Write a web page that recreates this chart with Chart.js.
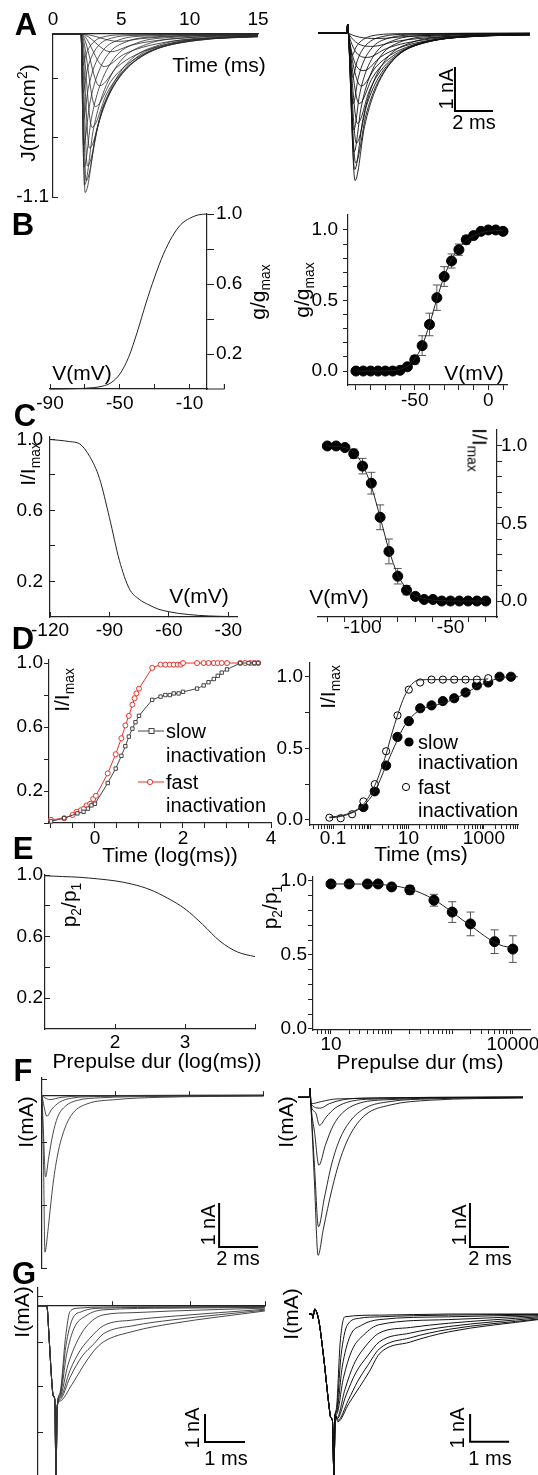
<!DOCTYPE html>
<html>
<head>
<meta charset="utf-8">
<title>Na+ current: model vs. recordings</title>
<script src="https://cdn.jsdelivr.net/npm/chart.js@4.4.1/dist/chart.umd.min.js"></script>
<style>
  html, body { margin: 0; padding: 0; background: #fff; }
  #fig { position: relative; width: 538px; height: 1475px; overflow: hidden;
         font-family: 'Liberation Sans', Arial, Helvetica, sans-serif; color: #000; }
  #fig canvas { position: absolute; }
  .txt { position: absolute; white-space: nowrap; line-height: 1; font-size: 21px;
         transform: translate(-50%, -50%); }
  .up { transform: translate(-50%, -50%) rotate(-90deg); }
  .down { transform: translate(-50%, -50%) rotate(90deg); }
  .letter { font-weight: bold; font-size: 31px; }
  .leg { font-size: 20px; transform: translate(0, -50%); }
  .sb { font-size: 20px; }
  sub, sup { font-size: 0.66em; line-height: 0; }
  svg.sw { position: absolute; overflow: visible; }
</style>
</head>
<body>
<div id="fig">
  <!-- panel letters -->
  <div class="txt letter" style="left:26px;top:24px">A</div>
  <div class="txt letter" style="left:23px;top:224px">B</div>
  <div class="txt letter" style="left:25px;top:415px">C</div>
  <div class="txt letter" style="left:23px;top:638px">D</div>
  <div class="txt letter" style="left:23px;top:848px">E</div>
  <div class="txt letter" style="left:23px;top:1070px">F</div>
  <div class="txt letter" style="left:24px;top:1273px">G</div>

  <!-- A -->
  <div class="txt" style="left:219px;top:64px">Time (ms)</div>
  <div class="txt up" style="left:27px;top:113px">J(mA/cm<sup>2</sup>)</div>
  <div class="txt up sb" style="left:446px;top:89px">1 nA</div>
  <div class="txt sb" style="left:474px;top:122px">2 ms</div>

  <!-- B -->
  <div class="txt up" style="left:257px;top:292px">g/g<sub>max</sub></div>
  <div class="txt" style="left:82px;top:372px">V(mV)</div>
  <div class="txt up" style="left:301px;top:290px">g/g<sub>max</sub></div>
  <div class="txt" style="left:474px;top:372px">V(mV)</div>

  <!-- C -->
  <div class="txt up" style="left:27px;top:464px">I/I<sub>max</sub></div>
  <div class="txt" style="left:199px;top:595px">V(mV)</div>
  <div class="txt down" style="left:480px;top:450px">I/I<sub>max</sub></div>
  <div class="txt" style="left:339px;top:596px">V(mV)</div>

  <!-- D -->
  <div class="txt up" style="left:61px;top:690px">I/I<sub>max</sub></div>
  <div class="txt" style="left:170px;top:854px">Time (log(ms))</div>
  <svg class="sw" style="left:137px;top:725px" width="28" height="12">
    <line x1="1" y1="6" x2="27" y2="6" stroke="#444" stroke-width="1"/>
    <rect x="12" y="3.5" width="5" height="5" fill="#fff" stroke="#444" stroke-width="1"/>
  </svg>
  <div class="txt leg" style="left:166px;top:731px">slow</div>
  <div class="txt leg" style="left:166px;top:755px">inactivation</div>
  <svg class="sw" style="left:137px;top:776px" width="28" height="12">
    <line x1="1" y1="6" x2="27" y2="6" stroke="#e8322c" stroke-width="1"/>
    <circle cx="13" cy="6" r="2.6" fill="#fff" stroke="#e8322c" stroke-width="1"/>
  </svg>
  <div class="txt leg" style="left:166px;top:782px">fast</div>
  <div class="txt leg" style="left:166px;top:805px">inactivation</div>

  <div class="txt up" style="left:327px;top:687px">I/I<sub>max</sub></div>
  <div class="txt" style="left:421px;top:853px">Time (ms)</div>
  <svg class="sw" style="left:403px;top:736px" width="12" height="12">
    <circle cx="6" cy="6" r="4.6" fill="#000"/>
  </svg>
  <div class="txt leg" style="left:418px;top:742px">slow</div>
  <div class="txt leg" style="left:418px;top:762px">inactivation</div>
  <svg class="sw" style="left:400px;top:781px" width="12" height="12">
    <circle cx="6" cy="6" r="3.6" fill="#fff" stroke="#000" stroke-width="1"/>
  </svg>
  <div class="txt leg" style="left:418px;top:787px">fast</div>
  <div class="txt leg" style="left:418px;top:810px">inactivation</div>

  <!-- E -->
  <div class="txt up" style="left:68px;top:905px">p<sub>2</sub>/p<sub>1</sub></div>
  <div class="txt" style="left:157px;top:1060px">Prepulse dur (log(ms))</div>
  <div class="txt up" style="left:269px;top:907px">p<sub>2</sub>/p<sub>1</sub></div>
  <div class="txt" style="left:420px;top:1061px">Prepulse dur (ms)</div>

  <!-- F -->
  <div class="txt up" style="left:25px;top:1122px">I(mA)</div>
  <div class="txt up sb" style="left:208px;top:1225px">1 nA</div>
  <div class="txt sb" style="left:238px;top:1258px">2 ms</div>
  <div class="txt up" style="left:285px;top:1122px">I(mA)</div>
  <div class="txt up sb" style="left:459px;top:1225px">1 nA</div>
  <div class="txt sb" style="left:490px;top:1258px">2 ms</div>

  <!-- G -->
  <div class="txt up" style="left:21px;top:1312px">I(mA)</div>
  <div class="txt up sb" style="left:192px;top:1428px">1 nA</div>
  <div class="txt sb" style="left:226px;top:1458px">1 ms</div>
  <div class="txt up" style="left:290px;top:1314px">I(mA)</div>
  <div class="txt up sb" style="left:457px;top:1428px">1 nA</div>
  <div class="txt sb" style="left:490px;top:1458px">1 ms</div>
</div>

<script>
// ===================== data =====================

// A (left): simulated current density traces, [time ms, J mA/cm2]
const jOnset = [[0, 0], [2.05, 0]];
const jTraces = [
  [[4.8,-0.05],[6.4,-0.032],[8.0,-0.02],[11.2,-0.009],[15,-0.004]],
  [[4.2,-0.12],[5.7,-0.076],[7.2,-0.049],[10.2,-0.022],[15,-0.008]],
  [[3.75,-0.22],[5.15,-0.139],[6.55,-0.09],[9.35,-0.04],[13.55,-0.015],[15,-0.012]],
  [[3.4,-0.35],[4.7,-0.222],[6.0,-0.143],[8.6,-0.064],[12.5,-0.024],[15,-0.015]],
  [[3.1,-0.49],[4.3,-0.311],[5.5,-0.2],[7.9,-0.09],[11.5,-0.034],[15,-0.017]],
  [[2.85,-0.63],[3.95,-0.399],[5.05,-0.258],[7.25,-0.115],[10.55,-0.043],[15,-0.018]],
  [[2.67,-0.77],[3.67,-0.488],[4.67,-0.315],[6.67,-0.141],[9.67,-0.053],[15,-0.017]],
  [[2.52,-0.89],[3.45,-0.564],[4.37,-0.364],[6.22,-0.163],[8.99,-0.061],[13.62,-0.021],[15,-0.018]],
  [[2.42,-0.99],[3.27,-0.628],[4.12,-0.405],[5.82,-0.181],[8.37,-0.068],[12.62,-0.024],[15,-0.016]],
  [[2.35,-1.07],[3.13,-0.678],[3.9,-0.438],[5.45,-0.196],[7.78,-0.074],[11.65,-0.026],[15,-0.012]],
  [[2.3,-1.02],[2.95,-0.647],[3.6,-0.417],[4.9,-0.187],[6.85,-0.07],[10.1,-0.024],[15,-0.009]],
  [[2.26,-0.9],[2.81,-0.571],[3.36,-0.368],[4.46,-0.165],[6.11,-0.062],[8.86,-0.022],[15,-0.006]],
  [[2.23,-0.75],[2.68,-0.476],[3.13,-0.307],[4.03,-0.137],[5.38,-0.052],[7.63,-0.018],[15,-0.003]],
  [[2.2,-0.58],[2.58,-0.368],[2.95,-0.237],[3.7,-0.106],[4.83,-0.04],[6.7,-0.014],[15,-0.002]],
  [[2.18,-0.4],[2.48,-0.254],[2.78,-0.164],[3.38,-0.073],[4.28,-0.028],[5.78,-0.01],[15,0]],
  [[2.16,-0.22],[2.41,-0.139],[2.66,-0.09],[3.16,-0.04],[3.91,-0.015],[5.16,-0.005],[15,0]]
];
const jTickLabels = [0, 5, 10, 15];

// A (right): recorded current traces, [time ms, I nA]
const iOnset = [[0, 0], [1.52, 0], [1.56, 0.2], [1.6, 0]];
const iTraces = [
  [[3.2,-0.12],[4.6,-0.076],[6.0,-0.049],[8.8,-0.022],[11.16,-0.013]],
  [[2.85,-0.3],[4.05,-0.19],[5.25,-0.123],[7.65,-0.055],[11.16,-0.021]],
  [[2.6,-0.55],[3.6,-0.349],[4.6,-0.225],[6.6,-0.101],[9.6,-0.038],[11.16,-0.025]],
  [[2.42,-0.85],[3.3,-0.539],[4.17,-0.348],[5.92,-0.156],[8.55,-0.059],[11.16,-0.029]],
  [[2.28,-1.2],[3.06,-0.761],[3.83,-0.491],[5.38,-0.22],[7.71,-0.083],[11.16,-0.032]],
  [[2.17,-1.6],[2.86,-1.014],[3.55,-0.654],[4.93,-0.293],[7.0,-0.11],[10.45,-0.038],[11.16,-0.034]],
  [[2.08,-2.05],[2.71,-1.3],[3.33,-0.838],[4.58,-0.375],[6.46,-0.141],[9.58,-0.049],[11.16,-0.04]],
  [[2.02,-2.5],[2.6,-1.585],[3.17,-1.023],[4.32,-0.458],[6.05,-0.173],[8.92,-0.06],[11.16,-0.042]],
  [[1.98,-2.95],[2.52,-1.87],[3.05,-1.207],[4.12,-0.54],[5.73,-0.204],[8.4,-0.071],[11.16,-0.04]],
  [[1.95,-3.35],[2.45,-2.124],[2.95,-1.37],[3.95,-0.613],[5.45,-0.231],[7.95,-0.08],[11.16,-0.036]],
  [[1.93,-3.1],[2.36,-1.965],[2.78,-1.268],[3.63,-0.567],[4.91,-0.214],[7.03,-0.074],[11.16,-0.022]],
  [[1.9,-2.7],[2.26,-1.712],[2.62,-1.104],[3.34,-0.494],[4.42,-0.186],[6.22,-0.065],[11.16,-0.012]],
  [[1.88,-2.2],[2.19,-1.395],[2.5,-0.9],[3.12,-0.403],[4.05,-0.152],[5.6,-0.053],[11.16,-0.006]],
  [[1.85,-1.6],[2.12,-1.014],[2.39,-0.654],[2.93,-0.293],[3.74,-0.11],[5.09,-0.038],[11.16,-0.003]],
  [[1.82,-1.0],[2.06,-0.634],[2.29,-0.409],[2.76,-0.183],[3.47,-0.069],[4.64,-0.024],[11.16,0]],
  [[1.8,-0.5],[2.0,-0.317],[2.2,-0.205],[2.6,-0.092],[3.2,-0.035],[4.2,-0.012],[11.16,0]]
];

// B: activation (g/gmax vs V)
const actModelV = [-90,-85,-80,-75,-70,-65,-60,-55,-50,-45,-40,-35,-30,-25,-20,-15,-10,-5,0];
const actModelG = [0,0,0.001,0.002,0.004,0.008,0.016,0.036,0.085,0.18,0.325,0.49,0.64,0.77,0.87,0.94,0.975,0.995,1.0];
const actV    = [-90,-85,-80,-75,-70,-65,-60,-55,-50,-45,-40,-35,-30,-25,-20,-15,-10,-5,0,5,10];
const actG    = [0,0,0,0,0,0,0.005,0.03,0.08,0.18,0.33,0.52,0.67,0.78,0.86,0.93,0.96,0.99,1.0,1.0,0.99];
const actGErr = [0,0,0,0,0,0,0,0.01,0.03,0.07,0.08,0.09,0.07,0.05,0.04,0.03,0.02,0.01,0.01,0.01,0.02];
const actFit  = [0,0,0,0,0.001,0.004,0.012,0.035,0.085,0.18,0.33,0.51,0.67,0.79,0.87,0.925,0.958,0.978,0.99,0.995,0.997];

// C: steady-state inactivation (I/Imax vs V)
const inaV = [-120,-115,-110,-105,-100,-95,-90,-85,-80,-75,-70,-65,-60,-55,-50,-45,-40,-35,-30];
const inaModel = [1.0,0.995,0.988,0.975,0.905,0.78,0.56,0.32,0.16,0.1,0.068,0.043,0.03,0.02,0.014,0.009,0.006,0.004,0.003];
const inaI    = [1.0,1.0,0.99,0.95,0.87,0.76,0.54,0.32,0.16,0.07,0.03,0.01,0.01,0,0,0,0,0,0];
const inaIErr = [0,0,0,0.03,0.05,0.07,0.08,0.08,0.05,0.03,0.01,0,0,0,0,0,0,0,0];
const inaFit  = [1.0,0.998,0.99,0.96,0.88,0.74,0.54,0.33,0.17,0.08,0.035,0.015,0.006,0.002,0,0,0,0,0];

// D (left): recovery from inactivation, model (log10 ms)
const fastLogT = [-1.0,-0.7,-0.51,-0.42,-0.32,-0.25,-0.19,-0.11,-0.04,0.02,0.29,0.47,0.6,0.69,0.77,0.85,0.9,0.94,1.0,1.3,1.49,1.6,1.7,1.79,1.88,1.95,2.0,2.32,2.47,2.58,2.7,2.79,2.88,3.0,3.3,3.41,3.53,3.62,3.71];
const fastFrac = [0.02,0.03,0.05,0.07,0.08,0.09,0.11,0.12,0.15,0.17,0.31,0.43,0.53,0.61,0.67,0.74,0.78,0.81,0.84,0.97,0.99,0.99,0.99,0.99,0.99,0.99,1.0,1.0,1.0,1.0,1.0,1.0,1.0,1.0,1.0,1.0,1.0,1.0,1.0];
const slowLogT = [-1.0,-0.7,-0.4,-0.26,-0.16,-0.08,0,0.29,0.47,0.6,0.69,0.77,0.85,0.92,1.0,1.3,1.49,1.6,1.7,1.79,1.9,2.0,2.32,2.47,2.58,2.7,2.79,2.88,3.0,3.3,3.49,3.62,3.71];
const slowFrac = [0.01,0.03,0.06,0.07,0.09,0.11,0.12,0.25,0.34,0.42,0.48,0.54,0.59,0.63,0.67,0.77,0.79,0.8,0.8,0.81,0.81,0.82,0.84,0.86,0.88,0.9,0.92,0.94,0.96,1.0,1.0,1.0,1.0];

// D (right): recovery from inactivation, recordings (ms)
const recT = [0.08,0.16,0.32,0.64,1.28,2.56,5.12,10.24,20.5,41,82,164,328,655,1310,2620,5240];
const recFast = [0.016,0.012,0.04,0.13,0.25,0.48,0.73,0.91,0.96,0.98,0.98,0.98,0.98,0.98,0.99];
const recSlow = [null,null,null,0.09,0.2,0.38,0.58,0.69,0.78,0.8,0.83,0.85,0.89,0.94,0.96,1.0,1.0];
const recFastFitT = [0.08,0.16,0.32,0.64,1.28,2.56,3.6,5.12,7.2,10.24,14.5,20.5,41,82,164,328,655,1310];
const recFastFit  = [0.02,0.03,0.055,0.11,0.24,0.46,0.6,0.73,0.84,0.92,0.965,0.978,0.98,0.98,0.98,0.98,0.98,0.985];
const recSlowFitT = [0.08,0.16,0.32,0.64,1.28,2.56,3.6,5.12,7.2,10.24,14.5,20.5,41,82,164,328,655,1310,2620,5240,8000];
const recSlowFit  = [0.015,0.025,0.05,0.1,0.2,0.38,0.47,0.56,0.64,0.7,0.74,0.77,0.795,0.815,0.845,0.885,0.93,0.965,0.99,1.0,1.0];

// E: slow inactivation onset (p2/p1 vs prepulse duration)
const preLogDur = [1.0,1.25,1.5,1.75,2.0,2.25,2.5,2.75,3.0,3.25,3.5,3.75,4.0];
const preModel  = [0.995,0.99,0.985,0.975,0.962,0.94,0.905,0.85,0.78,0.68,0.57,0.5,0.47];
const preDur    = [10,20,40,60,100,200,500,1000,2000,5000,10000];
const preRatio  = [0.98,0.98,0.98,0.98,0.96,0.94,0.87,0.79,0.71,0.59,0.54];
const preErr    = [0.01,0.01,0.01,0.01,0.01,0.03,0.04,0.07,0.08,0.08,0.09];
const preFitT   = [10,20,50,100,200,300,500,700,1000,1500,2000,3000,5000,7000,10000];
const preFit    = [0.98,0.98,0.977,0.97,0.945,0.92,0.875,0.835,0.79,0.735,0.7,0.645,0.585,0.56,0.55];

// F: currents at selected test pulses, [ms, nA]
const fModel = [
  [[0,0],[0.08,-1.6],[0.15,-3.57],[0.3,-3.1],[0.42,-2.6],[0.6,-1.9],[0.85,-1.25],[1.2,-0.72],[1.6,-0.4],[2.3,-0.2],[3.8,-0.1],[6,-0.05],[11.33,-0.02]],
  [[0,0],[0.08,-0.9],[0.18,-1.86],[0.35,-1.4],[0.55,-0.9],[0.8,-0.5],[1.2,-0.25],[1.8,-0.12],[3,-0.06],[6,-0.03],[11.33,-0.01]],
  [[0,0],[0.1,-0.25],[0.25,-0.48],[0.5,-0.32],[0.9,-0.16],[1.5,-0.07],[3,-0.03],[11.33,0]],
  [[0,0],[0.15,-0.06],[0.4,-0.1],[1.0,-0.05],[3,-0.01],[11.33,0]]
];
const fRecOnset = [[0,0],[0.58,0],[0.62,0.2],[0.66,-0.15]];
const fRec = [
  [[0.85,-2.0],[1.03,-3.6],[1.3,-3.0],[1.74,-2.1],[2.15,-1.43],[2.67,-0.86],[3.44,-0.41],[4.72,-0.18],[6.8,-0.07],[11.54,-0.02]],
  [[0.85,-1.6],[1.05,-2.95],[1.35,-2.3],[1.74,-1.5],[2.15,-0.95],[2.67,-0.55],[3.44,-0.25],[4.72,-0.1],[6.8,-0.04],[11.54,-0.01]],
  [[0.85,-0.8],[1.07,-1.55],[1.4,-1.1],[1.8,-0.65],[2.3,-0.35],[3.0,-0.16],[4.5,-0.06],[11.54,0]],
  [[0.9,-0.35],[1.1,-0.64],[1.45,-0.45],[1.9,-0.25],[2.5,-0.12],[3.5,-0.05],[11.54,0]],
  [[1.15,-0.25],[1.6,-0.15],[2.3,-0.06],[3.5,-0.02],[11.54,0]],
  [[1.2,-0.1],[2.0,-0.04],[11.54,0]]
];

// G: currents with an action-potential-like spike, [ms, nA]
const gModelOnset = [[0,0],[0.22,0],[0.28,-1.2],[0.34,-2.6],[0.38,-3.2],[0.42,-3.35],[0.45,-6.07],[0.48,-3.6]];
const gModel = [
  [[0.55,-3.1],[0.69,-1.1],[0.8,-0.2],[1.0,-0.08],[1.63,-0.04],[3.35,-0.03],[5.67,-0.02]],
  [[0.55,-3.15],[0.7,-1.4],[0.85,-0.5],[1.1,-0.2],[1.63,-0.08],[3.35,-0.05],[5.67,-0.03]],
  [[0.55,-3.2],[0.72,-1.7],[0.9,-0.8],[1.2,-0.35],[1.63,-0.14],[3.35,-0.08],[5.67,-0.05]],
  [[0.55,-3.25],[0.75,-2.1],[0.95,-1.35],[1.2,-0.75],[1.63,-0.32],[2.4,-0.24],[3.35,-0.18],[5.67,-0.08]],
  [[0.55,-3.3],[0.8,-2.3],[1.05,-1.6],[1.3,-1.15],[1.63,-0.71],[2.4,-0.5],[3.35,-0.37],[5.67,-0.12]],
  [[0.55,-3.35],[0.8,-2.55],[1.1,-1.8],[1.4,-1.35],[1.63,-1.0],[2.4,-0.7],[3.35,-0.5],[5.67,-0.15]],
  [[0.55,-3.4],[0.85,-2.8],[1.15,-2.1],[1.4,-1.6],[1.63,-1.29],[2.4,-0.9],[3.35,-0.63],[5.67,-0.18]]
];
const gRecOnset = [[0,0],[0.08,0],[0.1,-0.15],[0.12,0],[0.15,0.18],[0.2,0.05],[0.26,-0.3],[0.38,-1.6],[0.51,-3.25],[0.56,-3.71],[0.6,-3.8],[0.64,-5.79],[0.67,-3.6]];
const gRec = [
  [[0.7,-3.4],[0.8,-1.0],[0.92,-0.1],[1.8,-0.04],[3.57,0],[5.87,0]],
  [[0.7,-3.5],[0.82,-1.5],[0.98,-0.4],[1.3,-0.15],[1.8,-0.1],[3.57,-0.04],[5.87,-0.01]],
  [[0.7,-3.55],[0.85,-1.9],[1.05,-0.8],[1.35,-0.4],[1.8,-0.2],[3.57,-0.1],[5.87,-0.03]],
  [[0.7,-3.6],[0.88,-2.3],[1.1,-1.3],[1.4,-0.75],[1.8,-0.38],[3.57,-0.2],[5.87,-0.06]],
  [[0.72,-3.7],[0.92,-2.7],[1.15,-1.8],[1.45,-1.15],[1.8,-0.68],[2.6,-0.48],[3.57,-0.33],[5.87,-0.1]],
  [[0.72,-3.75],[0.95,-2.9],[1.2,-2.1],[1.5,-1.5],[1.8,-1.0],[2.6,-0.68],[3.57,-0.45],[5.87,-0.14]],
  [[0.74,-3.8],[1.0,-3.1],[1.25,-2.4],[1.5,-1.85],[1.8,-1.25],[2.6,-0.85],[3.57,-0.55],[5.87,-0.18]],
  [[0.74,-3.85],[1.02,-3.2],[1.3,-2.6],[1.55,-2.05],[1.8,-1.43],[2.6,-1.0],[3.57,-0.64],[5.87,-0.2]]
];

// ===================== plugins =====================

// vertical error bars with caps, read from dataset.errorBars
Chart.register({
  id: 'errorBars',
  beforeDatasetsDraw(chart) {
    const ctx = chart.ctx;
    chart.data.datasets.forEach((ds, i) => {
      if (!ds.errorBars) return;
      const meta = chart.getDatasetMeta(i);
      const ys = chart.scales[meta.yAxisID];
      ctx.save();
      ctx.strokeStyle = '#555';
      ctx.lineWidth = 1;
      meta.data.forEach((pt, j) => {
        const e = ds.errorBars[j];
        if (!e || ds.data[j] == null) return;
        const v = ds.data[j][1];
        const ya = ys.getPixelForValue(v + e), yb = ys.getPixelForValue(v - e);
        const x = pt.x, w = 4;
        ctx.beginPath();
        ctx.moveTo(x, ya); ctx.lineTo(x, yb);
        ctx.moveTo(x - w, ya); ctx.lineTo(x + w, ya);
        ctx.moveTo(x - w, yb); ctx.lineTo(x + w, yb);
        ctx.stroke();
      });
      ctx.restore();
    });
  }
});

// L-shaped calibration bar in data units
Chart.register({
  id: 'scaleBar',
  afterDatasetsDraw(chart, args, o) {
    if (!o || o.x === undefined) return;
    const xs = chart.scales.x, ys = chart.scales.y, ctx = chart.ctx;
    const x0 = xs.getPixelForValue(o.x), y0 = ys.getPixelForValue(o.y);
    const x1 = xs.getPixelForValue(o.x + o.dx), y1 = ys.getPixelForValue(o.y + o.dy);
    ctx.save();
    ctx.strokeStyle = '#000';
    ctx.lineWidth = 2;
    ctx.beginPath();
    ctx.moveTo(x0, y1); ctx.lineTo(x0, y0); ctx.lineTo(x1, y0);
    ctx.stroke();
    ctx.restore();
  }
});

// continuation of the x axis past the y axis (B, model), with its end tick
Chart.register({
  id: 'axisStub',
  afterDraw(chart, args, o) {
    if (!o || o.to === undefined) return;
    const xs = chart.scales.x, ctx = chart.ctx, y = chart.chartArea.bottom;
    const xa = chart.chartArea.right, xb = xs.getPixelForValue(o.to);
    ctx.save();
    ctx.strokeStyle = '#222';
    ctx.lineWidth = 1.2;
    ctx.beginPath();
    ctx.moveTo(xa, y); ctx.lineTo(xb, y);
    ctx.moveTo(xb, y); ctx.lineTo(xb, y - 5);
    ctx.stroke();
    ctx.restore();
  }
});

Chart.defaults.font.family = "'Liberation Sans', Arial, Helvetica, sans-serif";
Chart.defaults.font.size = 19;
Chart.defaults.color = '#000';

// ===================== helpers =====================
const M = 64;
const fig = document.getElementById('fig');

function makePanel(area, datasets, scales, plugins) {
  const [x1, y1, x2, y2] = area;
  // every axis box is M wide, so the side that holds an axis needs no extra padding
  const pad = { left: M, right: M, top: M, bottom: M };
  Object.values(scales).forEach(s => {
    if (s.display !== false && typeof s.position === 'string') pad[s.position] = 0;
  });
  const cv = document.createElement('canvas');
  cv.width = x2 - x1 + 2 * M;
  cv.height = y2 - y1 + 2 * M;
  cv.style.left = (x1 - M) + 'px';
  cv.style.top = (y1 - M) + 'px';
  fig.insertBefore(cv, fig.firstChild);
  return new Chart(cv.getContext('2d'), {
    type: 'line',
    data: { datasets },
    options: {
      responsive: false, animation: false, events: [],
      layout: { padding: pad },
      scales,
      plugins: Object.assign({ legend: { display: false }, tooltip: { enabled: false } }, plugins || {})
    }
  });
}

function ax(o) {
  const lab = o.labels || [];
  return {
    type: o.type || 'linear',
    position: o.pos,
    min: o.min, max: o.max,
    afterFit: s => {
      if (typeof o.pos !== 'string') return;
      if (s.isHorizontal()) s.height = M; else s.width = M;
    },
    afterBuildTicks: s => { s.ticks = (o.ticks || []).map(v => ({ value: v })); },
    ticks: {
      autoSkip: false, maxRotation: 0, minRotation: 0,
      padding: o.pad || 0, color: '#000', font: { size: o.fs || 19 },
      callback: v => lab.some(l => Math.abs(l - v) < 1e-9 * Math.max(1, Math.abs(l)))
        ? (o.fmt ? o.fmt(v) : String(v)) : ''
    },
    grid: { display: true, drawOnChartArea: false, drawTicks: true,
            tickLength: o.tl === undefined ? 5 : o.tl, color: '#222', lineWidth: 1 },
    border: { display: true, color: '#222', width: 1.2 }
  };
}
const hidden = (min, max) => ({ type: 'linear', display: false, min, max });
const f1 = v => v.toFixed(1);
const range = (a, b, s) => { const r = []; for (let v = a; v <= b + 1e-9; v += s) r.push(+v.toFixed(6)); return r; };
function logTicks(lo, hi) {
  const r = [];
  for (let e = -3; e <= 5; e++) for (let m = 1; m <= 9; m++) {
    const v = +(m * Math.pow(10, e)).toPrecision(6);
    if (v >= lo && v <= hi) r.push(v);
  }
  return r;
}
const pair = (xs, ys) => xs.map((x, i) => [x, ys[i]]);
const line = (pts, color, w) => ({ data: pts, borderColor: color || '#222', borderWidth: w || 0.8,
  pointRadius: 0, cubicInterpolationMode: 'monotone', fill: false, clip: false });
const dots = (pts, r, fillCol, extra) => Object.assign({ data: pts, showLine: false, pointRadius: r,
  pointBackgroundColor: fillCol, pointBorderColor: '#000', pointBorderWidth: 1, clip: false }, extra || {});

// ===================== A =====================
makePanel([53, 34, 258, 197],
  jTraces.map(t => line(jOnset.concat(t), '#2a2a2a', 0.8)),
  {
    x: ax({ pos: 'top', min: 0, max: 15, ticks: jTickLabels, labels: jTickLabels, tl: 0, pad: 3 }),
    y: ax({ pos: 'left', min: -1.1, max: 0, ticks: [-1.1, -0.7, -0.3], labels: [-1.1], tl: -5, pad: 9, fmt: f1 })
  });

makePanel([318, 20, 530, 185],
  iTraces.map(t => line(iOnset.concat(t), '#111', 0.9)),
  { x: hidden(0, 11.16), y: hidden(-3.45, 0.3) },
  { scaleBar: { x: 7.21, y: -1.77, dx: 2, dy: 1 } });

// ===================== B =====================
makePanel([50, 214, 207, 389],
  [line(pair(actModelV, actModelG), '#222', 1)],
  {
    x: ax({ pos: 'bottom', min: -90, max: 0, ticks: [-90, -70, -50, -30, -10], labels: [-90, -50, -10], tl: -5, pad: 8 }),
    y: ax({ pos: 'right', min: 0, max: 1, ticks: [0.2, 0.4, 0.6, 0.8, 1.0], labels: [0.2, 0.6, 1.0], tl: 7, pad: 2, fmt: f1 })
  },
  { axisStub: { to: 10 } });

makePanel([348, 215, 507, 385],
  [line(pair(actV, actFit), '#222', 1),
   dots(pair(actV, actG), 5, '#000', { errorBars: actGErr })],
  {
    x: ax({ pos: 'bottom', min: -95.4, max: 12.7, ticks: range(-90, 10, 10), labels: [-50, 0], tl: 5, pad: -1 }),
    y: ax({ pos: 'left', min: -0.099, max: 1.106, ticks: range(0, 1, 0.1), labels: [0, 0.5, 1], tl: 5, pad: 5, fmt: f1 })
  });

// ===================== C =====================
makePanel([50, 437, 237, 617],
  [line(pair(inaV, inaModel), '#222', 1)],
  {
    x: ax({ pos: 'bottom', min: -120, max: -25.6, ticks: [-120, -90, -60, -30], labels: [-120, -90, -60, -30], tl: -5, pad: 7 }),
    y: ax({ pos: 'left', min: 0, max: 1.014, ticks: [0.2, 0.4, 0.6, 0.8, 1.0], labels: [0.2, 0.6, 1.0], tl: -5, pad: 12, fmt: f1 })
  });

makePanel([318, 430, 497, 617],
  [line(pair(inaV, inaFit), '#222', 1),
   dots(pair(inaV, inaI), 5, '#000', { errorBars: inaIErr })],
  {
    x: ax({ pos: 'bottom', min: -125.3, max: -23.6, ticks: range(-120, -30, 10), labels: [-100, -50], tl: 5, pad: -6 }),
    y: ax({ pos: 'right', min: -0.103, max: 1.103, ticks: range(0, 1, 0.1), labels: [0, 0.5, 1], tl: 5, pad: -1, fmt: f1 })
  });

// ===================== D =====================
makePanel([49, 660, 271, 823],
  [
    { data: pair(slowLogT, slowFrac), borderColor: '#444', borderWidth: 1, pointStyle: 'rect', pointRadius: 2.4,
      pointBackgroundColor: '#fff', pointBorderColor: '#444', pointBorderWidth: 1, tension: 0, clip: false },
    { data: pair(fastLogT, fastFrac), borderColor: '#e8322c', borderWidth: 1, pointStyle: 'circle', pointRadius: 2.5,
      pointBackgroundColor: '#fff', pointBorderColor: '#e8322c', pointBorderWidth: 1, tension: 0, clip: false }
  ],
  {
    x: ax({ pos: 'bottom', min: -1.045, max: 4.0, ticks: range(-1, 4, 0.5), labels: [0, 2, 4], tl: 5, pad: -1 }),
    y: ax({ pos: 'left', min: 0, max: 1.019, ticks: range(0, 1, 0.2), labels: [0.2, 0.6, 1.0], tl: 5, pad: 1, fmt: f1 })
  });

makePanel([310, 663, 518, 825],
  [
    line(pair(recFastFitT, recFastFit), '#222', 1),
    line(pair(recSlowFitT, recSlowFit), '#222', 1),
    dots(pair(recT.slice(0, recFast.length), recFast), 3.6, '#fff'),
    dots(pair(recT, recSlow).filter(p => p[1] !== null), 4.6, '#000')
  ],
  {
    x: ax({ type: 'logarithmic', pos: 'bottom', min: 0.0245, max: 8070, ticks: logTicks(0.0245, 8070), labels: [0.1, 10, 1000], tl: 4, pad: -2 }),
    y: ax({ pos: 'left', min: -0.035, max: 1.096, ticks: [0, 0.25, 0.5, 0.75, 1.0], labels: [0, 0.5, 1.0], tl: 5, pad: 2, fmt: f1 })
  });

// ===================== E =====================
makePanel([45, 875, 255, 1029],
  [line(pair(preLogDur, preModel), '#222', 1)],
  {
    x: ax({ pos: 'bottom', min: 1, max: 4, ticks: [2, 3, 4], labels: [2, 3], tl: -5, pad: 7 }),
    y: ax({ pos: 'left', min: 0, max: 1, ticks: [0.2, 0.4, 0.6, 0.8, 1.0], labels: [0.2, 0.6, 1.0], tl: -5, pad: 7, fmt: f1 })
  });

makePanel([313, 877, 530, 1030],
  [line(pair(preFitT, preFit), '#222', 1),
   dots(pair(preDur, preRatio), 5, '#000', { errorBars: preErr })],
  {
    x: ax({ type: 'logarithmic', pos: 'bottom', min: 5.05, max: 19200, ticks: logTicks(5.05, 19200), labels: [10, 10000], tl: 4, pad: -1 }),
    y: ax({ pos: 'left', min: -0.0068, max: 1.027, ticks: range(0, 1, 0.1), labels: [0, 0.5, 1.0], tl: 5, pad: 1, fmt: f1 })
  });

// ===================== F =====================
makePanel([42, 1078, 263, 1268],
  fModel.map(t => line(t, '#333', 0.9)),
  {
    x: ax({ pos: { y: 0 }, min: 0, max: 11.33, ticks: [3.78, 7.56, 11.33], labels: [], tl: -5 }),
    y: ax({ pos: 'left', min: -3.93, max: 0.39, ticks: [-3.93, -2.5, -1.07, 0.36], labels: [], tl: -5 })
  },
  { scaleBar: { x: 9.08, y: -3.45, dx: 2, dy: 1 } });

makePanel([298, 1080, 523, 1265],
  fRec.map(t => line(fRecOnset.concat(t), '#111', 0.9)),
  { x: hidden(0, 11.54), y: hidden(-3.82, 0.39) },
  { scaleBar: { x: 8.82, y: -3.41, dx: 2, dy: 1 } });

// ===================== G =====================
makePanel([38, 1288, 265, 1476],
  gModel.map(t => line(gModelOnset.concat(t), '#333', 0.9)),
  {
    x: ax({ pos: { y: 0 }, min: 0, max: 5.675, ticks: [1.85, 3.8, 5.675], labels: [], tl: -5 }),
    y: ax({ pos: 'left', min: -6.07, max: 0.64, ticks: [0.32, -1.29, -2.89, -4.5, -6.07], labels: [], tl: -5 })
  },
  { scaleBar: { x: 4.175, y: -4.857, dx: 1, dy: 1 } });

makePanel([309, 1288, 538, 1476],
  gRec.map(t => line(gRecOnset.concat(t), '#111', 1)),
  { x: hidden(0, 5.87), y: hidden(-5.79, 0.93) },
  { scaleBar: { x: 4.13, y: -4.57, dx: 1, dy: 1 } });
</script>
</body>
</html>
